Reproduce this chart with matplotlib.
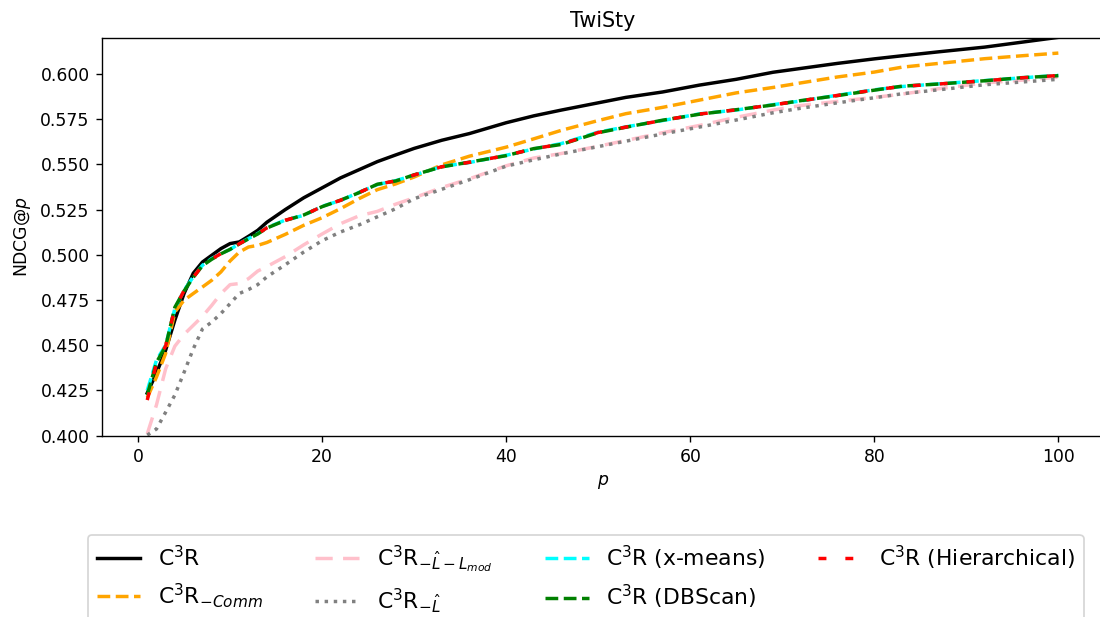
import matplotlib
matplotlib.use("Agg")
import matplotlib.pyplot as plt

p = [1, 2, 3, 4, 5, 6, 7, 8, 9, 10, 11, 12, 13, 14, 16, 18, 20, 22, 24, 26, 28, 30,
     33, 36, 40, 43, 46, 50, 53, 57, 61, 65, 69, 72, 76, 80, 83, 87, 92, 96, 100]

c3r = [0.4236, 0.4346, 0.4473, 0.4639, 0.4786, 0.4898, 0.4960, 0.4997, 0.5034, 0.5062,
       0.5071, 0.5102, 0.5135, 0.5180, 0.5250, 0.5315, 0.5370, 0.5425, 0.5470, 0.5515,
       0.5552, 0.5588, 0.5633, 0.5670, 0.5730, 0.5768, 0.5800, 0.5840, 0.5870, 0.5900,
       0.5938, 0.5970, 0.6009, 0.6030, 0.6058, 0.6083, 0.6100, 0.6122, 0.6148, 0.6175,
       0.6202]

c3r_comm = [0.4210, 0.4324, 0.4455, 0.4684, 0.4749, 0.4786, 0.4822, 0.4859, 0.4905, 0.4966,
            0.5015, 0.5043, 0.5052, 0.5068, 0.5113, 0.5163, 0.5205, 0.5255, 0.5310, 0.5360,
            0.5392, 0.5430, 0.5497, 0.5545, 0.5595, 0.5641, 0.5688, 0.5742, 0.5780, 0.5815,
            0.5855, 0.5895, 0.5925, 0.5950, 0.5983, 0.6010, 0.6037, 0.6058, 0.6084, 0.6100,
            0.6115]

c3r_l_lmod = [0.4010, 0.4170, 0.4370, 0.4495, 0.4560, 0.4610, 0.4660, 0.4720, 0.4785, 0.4835,
              0.4841, 0.4868, 0.4910, 0.4935, 0.4990, 0.5055, 0.5115, 0.5172, 0.5215, 0.5240,
              0.5280, 0.5315, 0.5372, 0.5420, 0.5492, 0.5535, 0.5560, 0.5600, 0.5632, 0.5675,
              0.5715, 0.5760, 0.5800, 0.5825, 0.5848, 0.5870, 0.5888, 0.5918, 0.5950, 0.5965,
              0.5982]

c3r_l = [0.4003, 0.4037, 0.4130, 0.4225, 0.4350, 0.4480, 0.4590, 0.4628, 0.4675, 0.4730,
         0.4786, 0.4808, 0.4835, 0.4878, 0.4945, 0.5015, 0.5078, 0.5126, 0.5165, 0.5210,
         0.5255, 0.5310, 0.5362, 0.5415, 0.5490, 0.5525, 0.5558, 0.5598, 0.5628, 0.5668,
         0.5706, 0.5745, 0.5785, 0.5810, 0.5840, 0.5868, 0.5890, 0.5912, 0.5940, 0.5955,
         0.5970]

c3r_xmeans = [0.4250, 0.4418, 0.4500, 0.4703, 0.4804, 0.4878, 0.4942, 0.4979, 0.5007, 0.5029,
              0.5062, 0.5090, 0.5117, 0.5150, 0.5192, 0.5218, 0.5268, 0.5300, 0.5345, 0.5388,
              0.5410, 0.5440, 0.5488, 0.5510, 0.5550, 0.5585, 0.5615, 0.5678, 0.5707, 0.5742,
              0.5779, 0.5800, 0.5830, 0.5850, 0.5882, 0.5912, 0.5930, 0.5945, 0.5963, 0.5978,
              0.5992]

c3r_dbscan = [0.4225, 0.4405, 0.4495, 0.4710, 0.4800, 0.4875, 0.4940, 0.4975, 0.5005, 0.5030,
              0.5060, 0.5088, 0.5115, 0.5148, 0.5190, 0.5220, 0.5266, 0.5302, 0.5343, 0.5390,
              0.5408, 0.5442, 0.5486, 0.5512, 0.5548, 0.5587, 0.5610, 0.5675, 0.5705, 0.5744,
              0.5777, 0.5802, 0.5828, 0.5852, 0.5880, 0.5910, 0.5932, 0.5944, 0.5962, 0.5979,
              0.5990]

c3r_hier = [0.4197, 0.4400, 0.4497, 0.4705, 0.4802, 0.4876, 0.4941, 0.4977, 0.5006, 0.5028,
            0.5061, 0.5089, 0.5116, 0.5149, 0.5191, 0.5219, 0.5267, 0.5301, 0.5344, 0.5389,
            0.5409, 0.5441, 0.5487, 0.5511, 0.5549, 0.5586, 0.5612, 0.5676, 0.5706, 0.5743,
            0.5778, 0.5801, 0.5829, 0.5851, 0.5881, 0.5911, 0.5931, 0.5944, 0.5962, 0.5978,
            0.5991]

labels = [r"C$^3$R", r"C$^3$R$_{-Comm}$", r"C$^3$R$_{-\hat{L}-L_{mod}}$", r"C$^3$R$_{-\hat{L}}$",
          r"C$^3$R (x-means)", r"C$^3$R (DBScan)", r"C$^3$R (Hierarchical)"]

fig = plt.figure(figsize=(1100 / 124, 617 / 124), dpi=124)
ax = fig.add_axes([101.7 / 1100, 1 - 435.7 / 617, (1103.9 - 101.7) / 1100, (435.7 - 37.7) / 617])

ax.plot(p, c3r, color="black", lw=2, linestyle="-", label=labels[0])
ax.plot(p, c3r_comm, color="orange", lw=2, linestyle="--", label=labels[1])
ax.plot(p, c3r_l_lmod, color="pink", lw=2, linestyle=(0, (5, 3)), label=labels[2])
ax.plot(p, c3r_l, color="gray", lw=2, linestyle=":", label=labels[3])
ax.plot(p, c3r_xmeans, color="cyan", lw=2, linestyle="--", label=labels[4])
ax.plot(p, c3r_dbscan, color="green", lw=2, linestyle="--", label=labels[5])
ax.plot(p, c3r_hier, color="red", lw=2, linestyle=(0, (2.3, 5.5)), label=labels[6])

ax.set_ylim(0.4, 0.62)
ax.set_xlim(-3.95, 104.95)
ax.set_xticks([0, 20, 40, 60, 80, 100])
ax.set_title("TwiSty")
ax.set_xlabel(r"$p$")
ax.set_ylabel(r"NDCG@$p$")

fig.legend(loc="upper left", bbox_to_anchor=(88 / 1100, 1 - 535 / 617),
           bbox_transform=fig.transFigure, ncol=4, fontsize=12.7, borderaxespad=0,
           columnspacing=2.4)

fig.savefig("out.png", dpi=124)
